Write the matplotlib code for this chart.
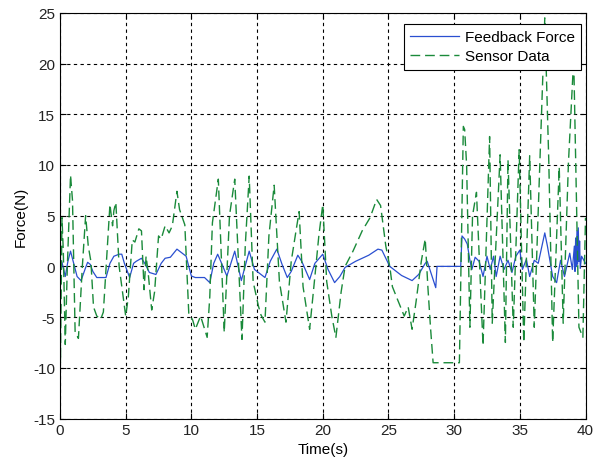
import matplotlib
matplotlib.use("Agg")
import matplotlib.pyplot as plt

# Feedback force (blue, solid)
force_t = [0.0, 0.15, 0.4, 0.6, 0.8, 1.0, 1.3, 1.6, 1.9, 2.1, 2.3, 2.5, 2.8, 3.5, 3.8,
           4.1, 4.5, 4.7, 4.9, 5.3, 5.6, 5.8, 6.2, 6.5, 6.8, 7.3, 7.7, 8.0, 8.4, 8.9,
           9.2, 9.6, 9.8, 10.0, 10.3, 11.0, 11.4, 11.7, 12.0, 12.3, 12.7, 13.3, 13.8,
           14.4, 14.8, 15.6, 16.0, 16.5, 16.9, 17.3, 17.6, 18.1, 18.4, 19.0, 19.4,
           20.0, 20.4, 20.9, 21.3, 21.7, 22.5, 23.5, 24.2, 24.5, 25.1, 26.0, 26.8,
           27.3, 27.8, 27.95, 28.6, 28.7, 30.5, 30.6, 30.8, 31.0, 31.2, 31.35, 31.6,
           31.9, 32.2, 32.5, 32.75, 33.0, 33.2, 33.5, 33.8, 34.1, 34.4, 34.7, 35.0,
           35.2, 35.5, 35.75, 36.1, 36.4, 36.9, 37.1, 37.5, 37.8, 38.1, 38.4, 38.8,
           39.0, 39.15, 39.2, 39.25, 39.3, 39.35, 39.4, 39.45, 39.5, 39.55, 39.6,
           39.7, 40.0]
force_v = [0.7, 0.4, -1.0, 0.5, 1.5, 0.5, -1.0, -1.4, -0.3, 0.4, 0.2, -0.5, -1.1, -1.1, 0.3,
           1.0, 1.2, 1.2, 0.3, -1.1, 0.3, 0.5, 0.8, 0.2, -0.6, -0.8, 0.3, 0.8, 0.9, 1.7,
           1.4, 1.0, 0.0, -0.95, -1.1, -1.1, -1.6, 0.3, 1.2, 0.3, -0.95, 1.5, -1.4,
           1.5, -0.3, -1.1, 0.5, 1.7, 0.2, -1.1, -0.5, 1.1, 0.5, -1.3, 0.3,
           1.2, -0.3, -1.6, -1.0, -0.1, 0.5, 1.1, 1.7, 1.6, 0.0, -0.9, -1.4,
           -0.8, 0.3, 0.5, -2.1, 0.0, 0.0, 3.0, 2.7, 2.2, 0.6, -0.3, 0.9,
           0.5, -1.0, 1.0, -0.3, 1.0, -1.0, 1.0, -0.3, 0.6, -0.6, 1.0, 1.6,
           -0.3, 0.7, -1.0, 0.6, 0.3, 3.3, 2.0, -1.0, -1.6, 0.6, -1.0, 1.3,
           -0.3, 2.0, -0.5, 2.8, 0.0, 3.5, 0.2, 3.8, 0.5, 2.5, -0.2,
           1.0, 0.3]

# Sensor data (green, dashed)
sensor_t = [0.0, 0.03, 0.15, 0.25, 0.4, 0.55, 0.8, 0.95, 1.15, 1.4, 1.7, 1.95, 2.15, 2.35,
            2.55, 2.8, 3.1, 3.3, 3.8, 4.0, 4.1, 4.25, 4.5, 5.0, 5.2, 5.5, 5.7, 6.0, 6.2,
            6.4, 6.55, 6.7, 6.98, 7.2, 7.5, 7.7, 8.0, 8.3, 8.55, 8.9, 9.1, 9.5, 9.8,
            10.1, 10.3, 10.7, 11.2, 11.4, 11.6, 12.05, 12.5, 12.9, 13.3, 13.85, 14.1,
            14.4, 14.7, 15.1, 15.3, 15.6, 15.9, 16.3, 16.7, 17.2, 17.6, 18.0, 18.2,
            18.5, 19.0, 19.4, 19.7, 20.0, 20.3, 20.7, 21.0, 21.4, 21.7, 22.3, 23.0,
            23.6, 24.1, 24.4, 24.8, 25.1, 25.3, 25.7, 26.2, 26.5, 26.8, 27.1, 27.5,
            27.8, 28.0, 28.2, 28.4, 30.4, 30.7, 30.8, 30.95, 31.2, 31.4, 31.7, 32.2,
            32.7, 32.9, 33.5, 33.9, 34.1, 34.5, 34.95, 35.3, 35.75, 36.1, 36.9, 37.2,
            37.5, 38.0, 38.3, 38.7, 39.1, 39.5, 39.8, 40.0]
sensor_v = [5.8, -9.5, 4.8, 1.5, -7.7, -0.3, 9.0, 6.5, -6.5, -7.1, 0.0, 5.0, 2.0, 0.5,
            -4.0, -4.9, -5.2, -4.5, 6.1, 4.0, 5.5, 6.3, 0.0, -4.9, -3.0, 2.6, 2.4, 3.7, 3.5,
            -2.3, 1.0, -0.5, -4.3, -2.5, 3.0, 2.7, 4.0, 3.3, 4.0, 7.4, 5.6, 4.1, -4.6,
            -5.3, -6.2, -4.9, -7.0, -3.0, 4.3, 8.6, -6.5, 5.0, 8.6, -7.2, 2.0,
            8.9, -1.5, -3.9, -4.8, -5.5, 3.0, 8.0, -1.5, -5.5, 0.5, 3.8, 5.4,
            -2.0, -6.2, -1.0, 3.0, 6.1, -1.5, -5.0, -7.0, -2.5, 0.0, 1.5, 3.5,
            4.8, 6.6, 6.0, 2.0, 0.0, -2.0, -3.3, -4.9, -4.0, -6.2, -3.5, 0.5,
            2.7, -2.0, -6.0, -9.5, -9.5, 13.8, 13.5, 10.0, -6.0, 5.0, 7.3, -7.8,
            12.8, -5.6, 11.0, -7.5, 10.5, -6.0, 11.5, -7.5, 10.9, -6.0, 24.5, 10.6,
            -7.5, 9.8, -5.6, 10.2, 20.5, -6.0, -7.0, 4.8]

x_ticks = [0, 5, 10, 15, 20, 25, 30, 35, 40]
y_ticks = [-15, -10, -5, 0, 5, 10, 15, 20, 25]

plt.rcParams["font.family"] = ["Liberation Sans", "DejaVu Sans"]
plt.rcParams["font.size"] = 11
plt.rcParams["axes.unicode_minus"] = False

fig = plt.figure(figsize=(5.96, 4.6), dpi=100)
ax = fig.add_axes([0.1007, 0.088, 0.8817, 0.882])

ax.plot(force_t, force_v, color="#2a4fd0", lw=0.9, label="Feedback Force")
ax.plot(sensor_t, sensor_v, color="#1a8a3a", lw=1.0, dashes=(7, 3.5),
        label="Sensor Data")

ax.set_xlim(0, 40)
ax.set_ylim(-15, 25)
ax.set_xticks(x_ticks)
ax.set_yticks(y_ticks)
ax.grid(True, color="black", linestyle=(0, (3, 3)), linewidth=0.8)
ax.tick_params(direction="in", top=True, right=True, length=4, width=0.8,
               labelcolor="#222222")
for s in ax.spines.values():
    s.set_linewidth(0.8)

ax.set_xlabel("Time(s)", labelpad=3)
ax.set_ylabel("Force(N)", labelpad=4)

leg = ax.legend(loc="upper right", bbox_to_anchor=(0.997, 0.98), fancybox=False,
                framealpha=1, edgecolor="black", handlelength=3.2,
                handletextpad=0.4, labelspacing=0.35, borderaxespad=0.2)
leg.get_frame().set_linewidth(0.8)

fig.savefig("out.png", dpi=100)
